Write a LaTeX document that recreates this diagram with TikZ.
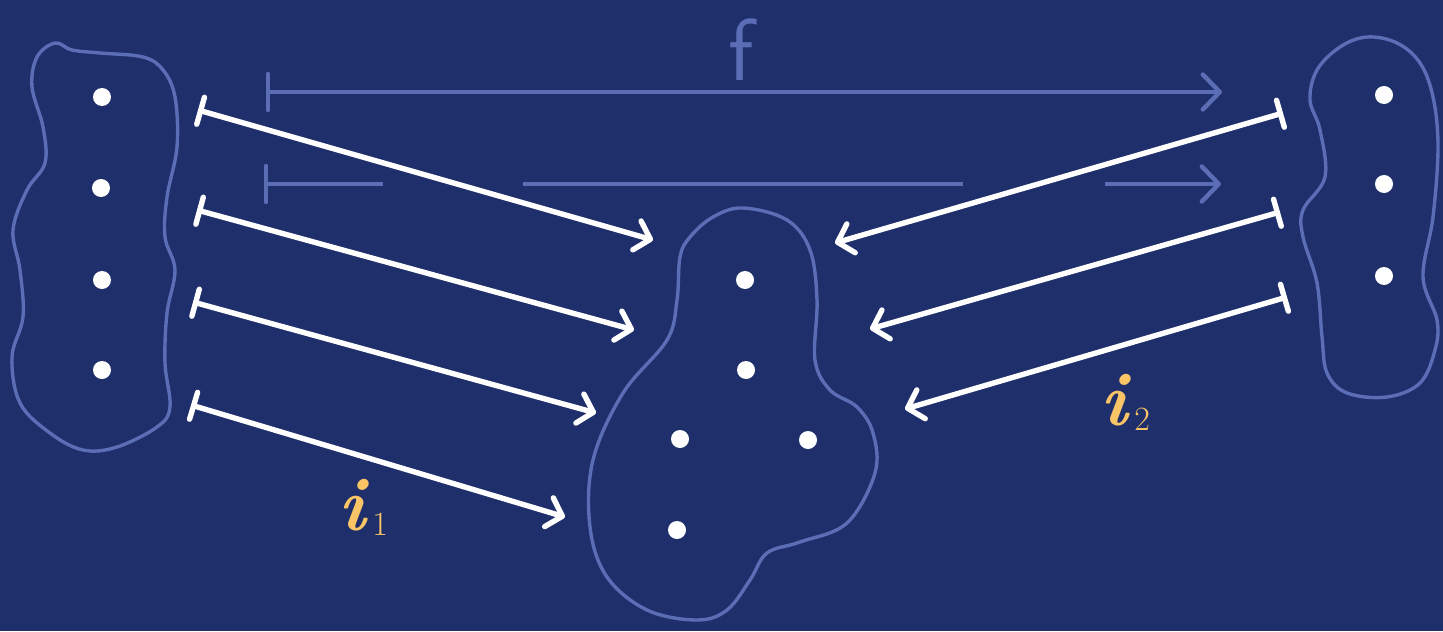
\documentclass[tikz,border=0pt]{standalone}
\usetikzlibrary{arrows.meta}
\definecolor{bg}{HTML}{1F2F6B}
\definecolor{blobc}{HTML}{5A6DB5}
\definecolor{yel}{HTML}{FAC566}
\newcommand{\biglbl}{\fontsize{38}{42}\selectfont\bfseries\itshape}
\newcommand{\sublbl}{\fontsize{17}{20}\selectfont\mdseries\upshape}
\tikzset{
  blob/.style={draw=blobc, line width=1.7pt, line join=round},
  pt/.style={circle, fill=white, minimum size=9pt, inner sep=0pt},
  imap/.style={draw=white, line width=2.7pt, line cap=round, line join=round,
    {Bar[width=14pt, line cap=round]}-{Straight Barb[length=7pt, width=15pt, line cap=round, line join=round]}},
  fline/.style={draw=blobc, line width=2.2pt, line cap=butt},
  lbl/.style={text=yel, inner sep=0pt},
}
\begin{document}
\begin{tikzpicture}[x=0.5pt, y=-0.5pt]
\fill[bg] (0,0) rectangle (1443,631);
\useasboundingbox (0,0) rectangle (1443,631);
% blobs
\draw[blob] plot[smooth cycle, tension=0.6] coordinates {
 (55,43) (72,50) (100,53) (143,57) (163,70) (175,97) (177,147) (167,197) (165,237)
 (175,270) (167,313) (165,363) (170,407) (157,427) (117,447) (83,450) (50,433)
 (20,403) (12,357) (23,317) (20,270) (13,230) (27,190) (45,163) (43,127) (32,87) (37,57)};
\draw[blob] plot[smooth cycle, tension=0.6] coordinates {
 (1367,37) (1397,43) (1420,63) (1433,97) (1438,147) (1433,217) (1423,277) (1437,320)
 (1435,350) (1420,383) (1387,397) (1347,393) (1327,373) (1322,337) (1317,283)
 (1303,237) (1303,210) (1325,177) (1320,130) (1310,100) (1317,70) (1340,47)};
\draw[blob] plot[smooth cycle, tension=0.6] coordinates {
 (743,208) (787,220) (810,250) (817,300) (815,360) (830,390) (857,407) (873,433)
 (875,473) (847,523) (800,542) (767,553) (750,580) (727,610) (697,620) (647,610)
 (607,577) (590,527) (593,460) (623,393) (667,340) (677,300) (680,257) (690,237) (713,217)};
% points
\node[pt] (a1) at (102,97) {};
\node[pt] (a2) at (101,188) {};
\node[pt] (a3) at (102,280) {};
\node[pt] (a4) at (102,370) {};
\node[pt] (m1) at (745,280) {};
\node[pt] (m2) at (746,370) {};
\node[pt] (m3) at (680,439) {};
\node[pt] (m4) at (808,440) {};
\node[pt] (m5) at (677,530) {};
\node[pt] (b1) at (1384,95) {};
\node[pt] (b2) at (1384,184) {};
\node[pt] (b3) at (1384,276) {};
% f arrows
\coordinate (f1s) at (266,92);
\coordinate (f1e) at (1222,92);
\draw[fline, {Bar[width=18pt, line cap=round]}-{Straight Barb[length=8.5pt, width=17.5pt, line cap=round, line join=round]}] (f1s) -- (f1e);
\node[text=blobc, font=\sffamily\fontsize{44}{48}\selectfont, inner sep=0pt] (flab) at (741,50) {f};
\coordinate (g1) at (264,184);
\coordinate (g2) at (383,184);
\coordinate (g3) at (523,184);
\coordinate (g4) at (963,184);
\coordinate (g5) at (1105,184);
\coordinate (g6) at (1221,184);
\draw[fline, {Bar[width=18pt, line cap=round]}-] (g1) -- (g2);
\draw[fline] (g3) -- (g4);
\draw[fline, -{Straight Barb[length=8.5pt, width=17.5pt, line cap=round, line join=round]}] (g5) -- (g6);
% inclusion arrows left
\coordinate (l1s) at (198,110); \coordinate (l1e) at (653,240);
\coordinate (l2s) at (197,210); \coordinate (l2e) at (634,330);
\coordinate (l3s) at (193,302); \coordinate (l3e) at (596,413);
\coordinate (l4s) at (191,405); \coordinate (l4e) at (565,517);
\draw[imap] (l1s) -- (l1e);
\draw[imap] (l2s) -- (l2e);
\draw[imap] (l3s) -- (l3e);
\draw[imap] (l4s) -- (l4e);
% inclusion arrows right
\coordinate (r1s) at (1283,113); \coordinate (r1e) at (835,243);
\coordinate (r2s) at (1280,212); \coordinate (r2e) at (870,329);
\coordinate (r3s) at (1287,297); \coordinate (r3e) at (905,409);
\draw[imap] (r1s) -- (r1e);
\draw[imap] (r2s) -- (r2e);
\draw[imap] (r3s) -- (r3e);
% labels
\node[lbl, anchor=base west] (i1) at (338,530) {\biglbl i\kern3.5pt\raisebox{-0.15ex}{\sublbl 1}};
\node[lbl, anchor=base west] (i2) at (1100,425) {\biglbl i\kern3.5pt\raisebox{-0.15ex}{\sublbl 2}};
\end{tikzpicture}
\end{document}
